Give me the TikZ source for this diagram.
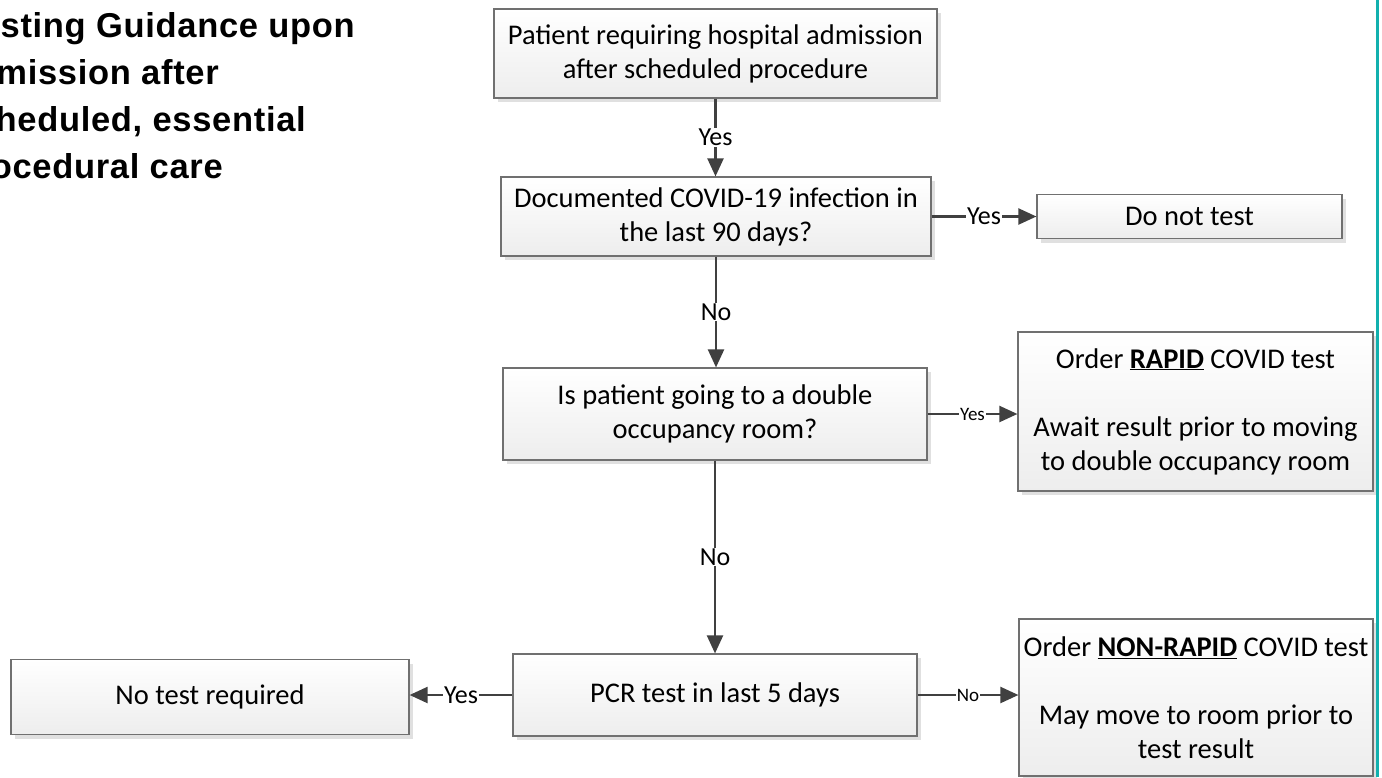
\documentclass[tikz,border=0pt]{standalone}
\usepackage{fontspec}
\setmainfont{Carlito}
\newfontfamily\titlefont[LetterSpace=2]{Liberation Sans}
\usetikzlibrary{arrows.meta,shadows}
\definecolor{bordergray}{HTML}{707070}
\definecolor{conncol}{HTML}{404040}
\definecolor{tealbar}{HTML}{12B0AE}
\begin{document}
\begin{tikzpicture}[x=1pt,y=-1pt,
  box/.style={draw=bordergray, line width=1.2pt, top color=white, bottom color=black!7,
    drop shadow={shadow xshift=4pt,shadow yshift=-4pt,fill=black!12,opacity=1},
    align=center, inner sep=0pt, font=\fontsize{28.5}{34}\selectfont},
  conn/.style={draw=conncol, line width=2.2pt, -{Triangle[length=18pt,width=16pt]}},
  lbl/.style={fill=white, inner xsep=1pt, inner ysep=1pt, font=\fontsize{26}{30}\selectfont, text=black},
  slbl/.style={lbl, font=\fontsize{19}{22}\selectfont},
  ttl/.style={anchor=base east, inner sep=0pt, font=\titlefont\bfseries\fontsize{34.5}{40}\selectfont}]
\useasboundingbox (0,0) rectangle (1382,777);
\begin{scope}
\clip (0,0) rectangle (1382,777);
\fill[white] (0,0) rectangle (1382,777);
% title
\node[ttl] (t1) at (355,37) {sting Guidance upon};
\node[ttl] (t2) at (219,84) {mission after};
\node[ttl] (t3) at (306,131) {heduled, essential};
\node[ttl] (t4) at (223,178) {ocedural care};
% boxes
\node[box, minimum width=443pt, minimum height=89pt] (pat) at (715.5,53.5) {Patient requiring hospital admission\\after scheduled procedure};
\node[box, minimum width=430pt, minimum height=79pt] (doc) at (716,216.5) {Documented COVID-19 infection in\\the last 90 days?};
\node[box, minimum width=305pt, minimum height=44pt] (dnt) at (1189.5,216.5) {Do not test};
\node[box, minimum width=424pt, minimum height=92pt] (dbl) at (715,414) {Is patient going to a double\\occupancy room?};
\node[box, minimum width=355pt, minimum height=159pt] (rap) at (1195.5,411.5) {Order \underline{\textbf{RAPID}} COVID test\\[34pt]Await result prior to moving\\to double occupancy room};
\node[box, minimum width=404pt, minimum height=82pt] (pcr) at (715,695) {PCR test in last 5 days};
\node[box, minimum width=398pt, minimum height=75pt] (ntr) at (210,697) {No test required};
\node[box, minimum width=354pt, minimum height=157pt] (nrp) at (1196,697.5) {Order \underline{\textbf{NON-RAPID}} COVID test\\[34pt]May move to room prior to\\test result};
% connectors
\draw[conn] (pat.south) -- node[lbl]{Yes} (pat.south |- doc.north);
\draw[conn] (doc.south) -- node[lbl]{No} (doc.south |- dbl.north);
\draw[conn] (dbl.south) -- node[lbl]{No} (dbl.south |- pcr.north);
\draw[conn] (doc.east) -- node[lbl]{Yes} (doc.east -| dnt.west);
\draw[conn] (dbl.east) -- node[slbl]{Yes} (dbl.east -| rap.west);
\draw[conn] (pcr.west) -- node[lbl]{Yes} (pcr.west -| ntr.east);
\draw[conn] (pcr.east) -- node[slbl]{No} (pcr.east -| nrp.west);
% teal bar
\fill[tealbar] (1376,0) rectangle (1379,777);
\end{scope}
\end{tikzpicture}
\end{document}
